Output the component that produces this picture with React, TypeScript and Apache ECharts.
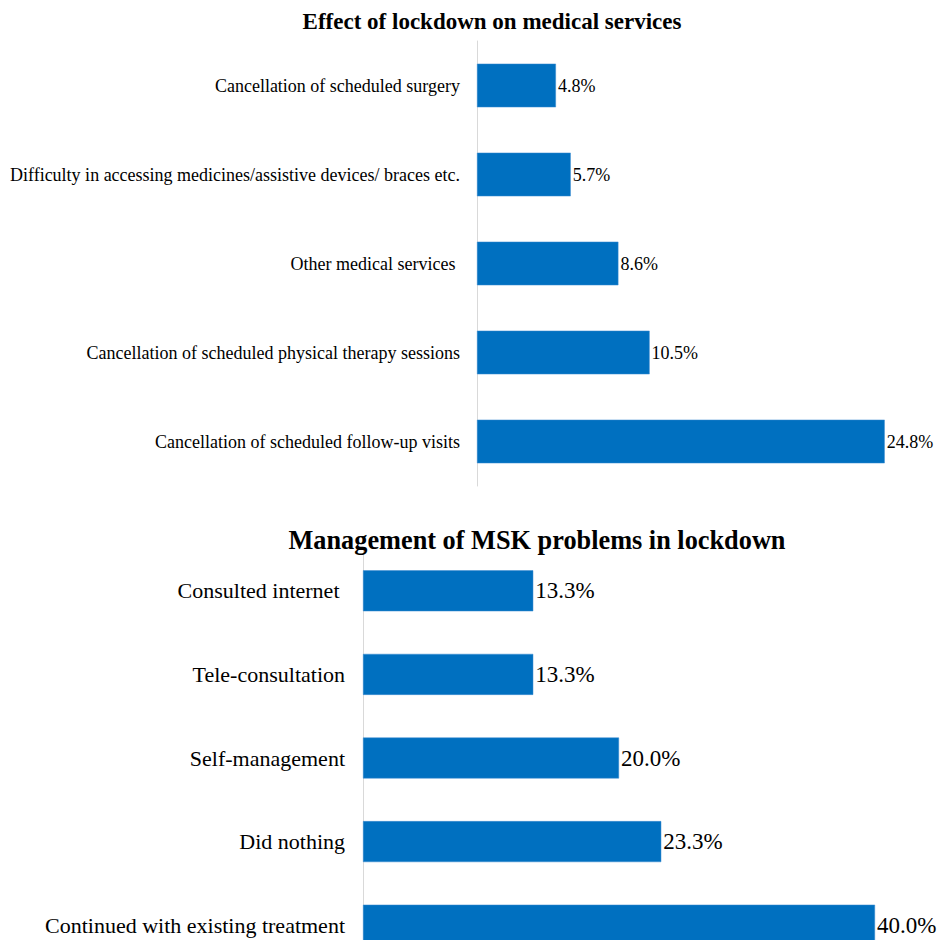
import React, { useEffect, useRef } from "react";
import * as echarts from "echarts";

const topTitle = "Effect of lockdown on medical services";
const topCategories = [
  "Cancellation of scheduled surgery",
  "Difficulty in accessing medicines/assistive devices/ braces etc.",
  "Other medical services ",
  "Cancellation of scheduled physical therapy sessions",
  "Cancellation of scheduled follow-up visits",
];
const topValues = [4.8, 5.7, 8.6, 10.5, 24.8];

const bottomTitle = "Management of MSK problems in lockdown";
const bottomCategories = [
  "Consulted internet ",
  "Tele-consultation",
  "Self-management",
  "Did nothing",
  "Continued with existing treatment",
];
const bottomValues = [13.3, 13.3, 20.0, 23.3, 40.0];

const FONT = "'Liberation Serif', 'Times New Roman', serif";
const BAR = "#0070C0";

export default function App() {
  const ref = useRef<HTMLDivElement>(null);
  useEffect(() => {
    if (!ref.current) return;
    const chart = echarts.init(ref.current, undefined, { renderer: "svg" });
    const labelFmt = (p: any) => Number(p.value).toFixed(1) + "%";
    chart.setOption({
      animation: false,
      backgroundColor: "#ffffff",
      title: [
        {
          text: topTitle,
          left: 487,
          top: 5,
          textAlign: "center",
          textStyle: { fontFamily: FONT, fontWeight: "bold", fontSize: 23, color: "#000" },
        },
        {
          text: bottomTitle,
          left: 532,
          top: 522,
          textAlign: "center",
          textStyle: { fontFamily: FONT, fontWeight: "bold", fontSize: 26.3, color: "#000" },
        },
      ],
      grid: [
        { left: 477, top: 41, width: 411, height: 445, containLabel: false },
        { left: 363, top: 549, width: 512, height: 418, containLabel: false },
      ],
      xAxis: [
        { gridIndex: 0, type: "value", min: 0, max: 25, show: false },
        { gridIndex: 1, type: "value", min: 0, max: 40, show: false },
      ],
      yAxis: [
        {
          gridIndex: 0,
          type: "category",
          inverse: true,
          data: topCategories,
          axisLine: { show: true, lineStyle: { color: "#d9d9d9", width: 1 } },
          axisTick: { show: false },
          axisLabel: { margin: 17, fontFamily: FONT, fontSize: 18, color: "#000" },
        },
        {
          gridIndex: 1,
          type: "category",
          inverse: true,
          data: bottomCategories,
          axisLine: { show: true, lineStyle: { color: "#d9d9d9", width: 1 } },
          axisTick: { show: false },
          axisLabel: { margin: 18, fontFamily: FONT, fontSize: 22, color: "#000" },
        },
      ],
      series: [
        {
          type: "bar",
          xAxisIndex: 0,
          yAxisIndex: 0,
          data: topValues,
          barWidth: "49%",
          itemStyle: { color: BAR, borderColor: "#3b8ad0", borderWidth: 0.5 },
          label: {
            show: true,
            position: "right",
            distance: 2,
            formatter: labelFmt,
            fontFamily: FONT,
            fontSize: 18,
            color: "#000",
          },
        },
        {
          type: "bar",
          xAxisIndex: 1,
          yAxisIndex: 1,
          data: bottomValues,
          barWidth: "49%",
          itemStyle: { color: BAR, borderColor: "#3b8ad0", borderWidth: 0.5 },
          label: {
            show: true,
            position: "right",
            distance: 2,
            formatter: labelFmt,
            fontFamily: FONT,
            fontSize: 23,
            color: "#000",
          },
        },
      ],
    });
    return () => chart.dispose();
  }, []);
  return (
    <div
      style={{
        position: "fixed",
        left: 0,
        top: 0,
        width: 942,
        height: 940,
        overflow: "hidden",
        background: "#fff",
      }}
    >
      <div ref={ref} style={{ width: 942, height: 1000 }} />
    </div>
  );
}
